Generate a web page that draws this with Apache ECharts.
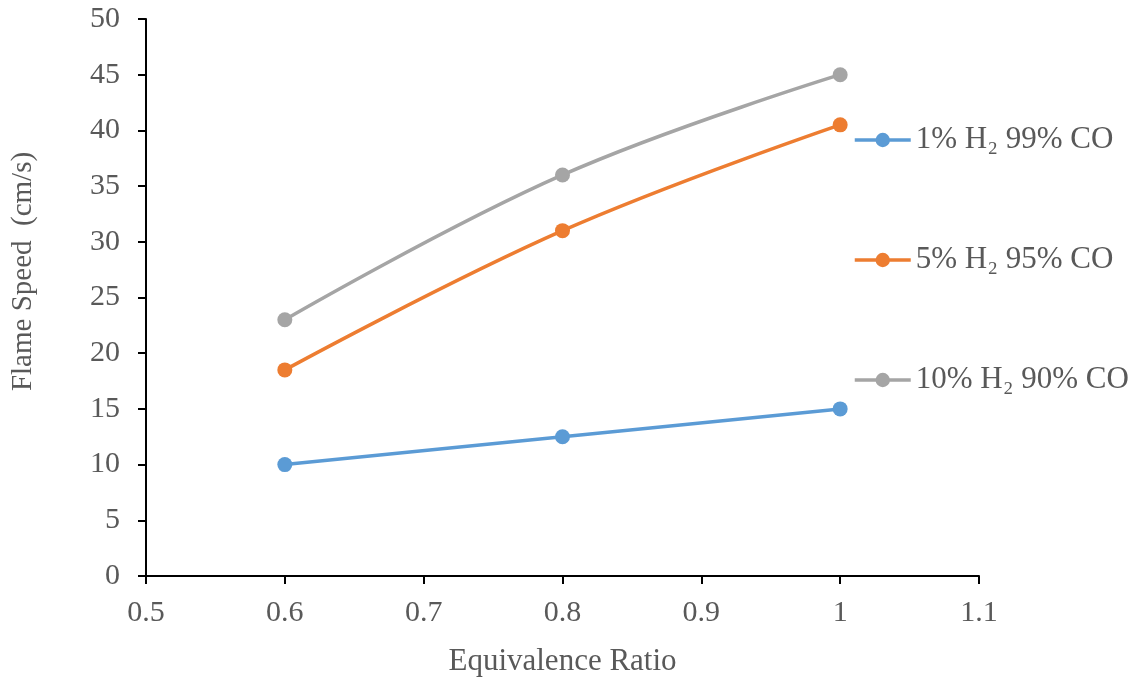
<!DOCTYPE html>
<html><head><meta charset="utf-8">
<script src="https://cdn.jsdelivr.net/npm/echarts@6/dist/echarts.min.js"></script>
<style>html,body{margin:0;padding:0;background:#fff}#c{width:1137px;height:677px}</style>
</head><body><div id="c"></div>
<script>
const xValues = [0.6, 0.8, 1.0];
const seriesNames = ['1% H\u2082 99% CO', '5% H\u2082 95% CO', '10% H\u2082 90% CO'];
const h2_1 = [10, 12.5, 15];
const h2_5 = [18.5, 31, 40.5];
const h2_10 = [23, 36, 45];
const colors = ['#5B9BD5', '#ED7D31', '#A5A5A5'];
const allData = [h2_1, h2_5, h2_10];
const font = '"Liberation Serif", "Times New Roman", serif';
const chart = echarts.init(document.getElementById('c'));
chart.setOption({
  animation: false,
  grid: {left: 146, right: 158, top: 19, bottom: 101, containLabel: false, outerBoundsMode: 'none'},
  legend: {
    orient: 'vertical', left: 848, top: 117,
    itemWidth: 56, itemHeight: 18, itemGap: 84,
    lineStyle: {width: 3.5},
    textStyle: {fontFamily: font, fontSize: 31, color: '#595959', lineHeight: 36},
    data: seriesNames
  },
  xAxis: {
    type: 'value', min: 0.5, max: 1.1, interval: 0.1,
    name: 'Equivalence Ratio', nameLocation: 'middle', nameGap: 70,
    nameTextStyle: {fontFamily: font, fontSize: 31, color: '#595959'},
    axisLine: {lineStyle: {color: '#000', width: 2}},
    axisTick: {show: true, inside: false, length: 8, lineStyle: {color: '#000', width: 2}},
    axisLabel: {fontFamily: font, fontSize: 30, color: '#595959', margin: 22,
      formatter: v => String(Math.round(v * 10) / 10)},
    splitLine: {show: false}
  },
  yAxis: {
    type: 'value', min: 0, max: 50, interval: 5,
    name: 'Flame Speed  (cm/s)', nameLocation: 'middle', nameGap: 108,
    nameTextStyle: {fontFamily: font, fontSize: 29, color: '#595959', padding: [0, 0, 0, 52]},
    axisLine: {show: true, lineStyle: {color: '#000', width: 2}},
    axisTick: {show: true, inside: false, length: 8, lineStyle: {color: '#000', width: 2}},
    axisLabel: {fontFamily: font, fontSize: 30, color: '#595959', margin: 26},
    splitLine: {show: false}
  },
  series: seriesNames.map((n, i) => ({
    name: n, type: 'line', smooth: 0.4,
    data: xValues.map((x, j) => [x, allData[i][j]]),
    symbol: 'circle', symbolSize: 15,
    lineStyle: {color: colors[i], width: 3.5},
    itemStyle: {color: colors[i]}
  }))
});
</script></body></html>
